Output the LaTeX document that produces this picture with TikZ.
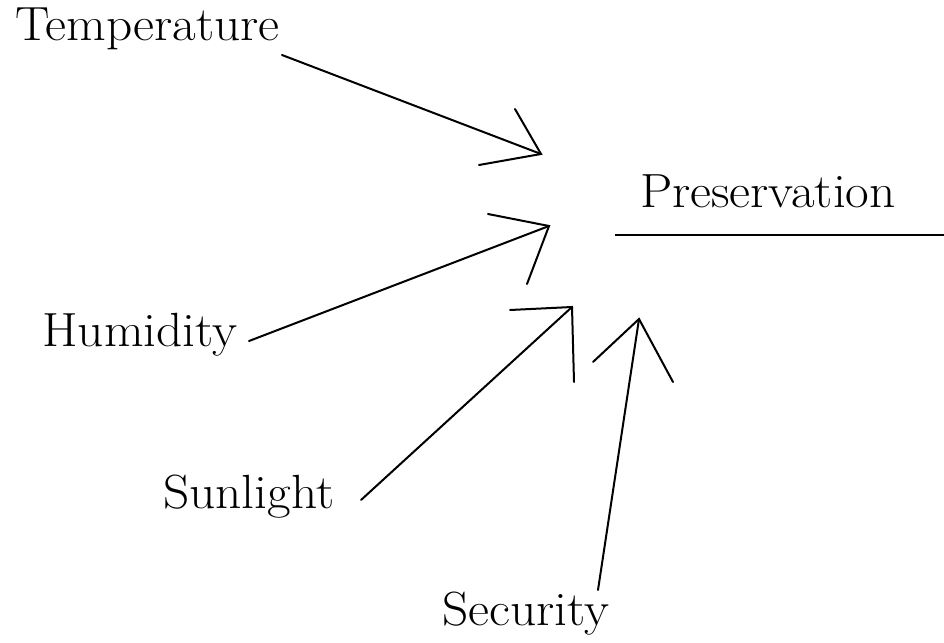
\documentclass[tikz,border=0pt]{standalone}
\usepackage{fontspec}
\setmainfont{Latin Modern Roman}
\newcommand{\widetxt}[1]{\scalebox{1.07}[1]{#1}}
\tikzset{
  lbl/.style={anchor=base west, inner sep=0pt, font=\fontsize{48}{52}\selectfont},
  con/.style={line width=2pt, line cap=round, line join=miter},
  barb/.style={line width=2pt, line cap=round, line join=miter}
}
\begin{document}
\begin{tikzpicture}[x=1pt,y=-1pt]
\useasboundingbox (0,0) rectangle (944,642);
% labels
\node[lbl] (temp) at (15,41) {\widetxt{Temperature}};
\node[lbl] (hum) at (42,346) {\widetxt{Humidity}};
\node[lbl] (sun) at (163,508) {\widetxt{Sunlight}};
\node[lbl] (sec) at (442,625) {\widetxt{Security}};
\node[lbl] (pres) at (640,207) {\widetxt{Preservation}};
% connector ends
\coordinate (tempS) at (282,55);
\coordinate (tempT) at (541,154);
\coordinate (tempA) at (515,109);
\coordinate (tempB) at (479,165);
\coordinate (humS) at (249,341);
\coordinate (humT) at (549,226);
\coordinate (humA) at (488,214);
\coordinate (humB) at (527,284);
\coordinate (sunS) at (361,500);
\coordinate (sunT) at (572,307);
\coordinate (sunA) at (510,310);
\coordinate (sunB) at (574,382);
\coordinate (secS) at (598,590);
\coordinate (secT) at (639,319);
\coordinate (secA) at (593,362);
\coordinate (secB) at (673,382);
\coordinate (ulA) at (615,235);
\coordinate (ulB) at (944,235);
% connectors
\draw[con] (tempS) -- (tempT);
\draw[barb] (tempA) -- (tempT) -- (tempB);
\draw[con] (humS) -- (humT);
\draw[barb] (humA) -- (humT) -- (humB);
\draw[con] (sunS) -- (sunT);
\draw[barb] (sunA) -- (sunT) -- (sunB);
\draw[con] (secS) -- (secT);
\draw[barb] (secA) -- (secT) -- (secB);
\draw[line width=2.5pt] (ulA) -- (ulB);
\end{tikzpicture}
\end{document}
